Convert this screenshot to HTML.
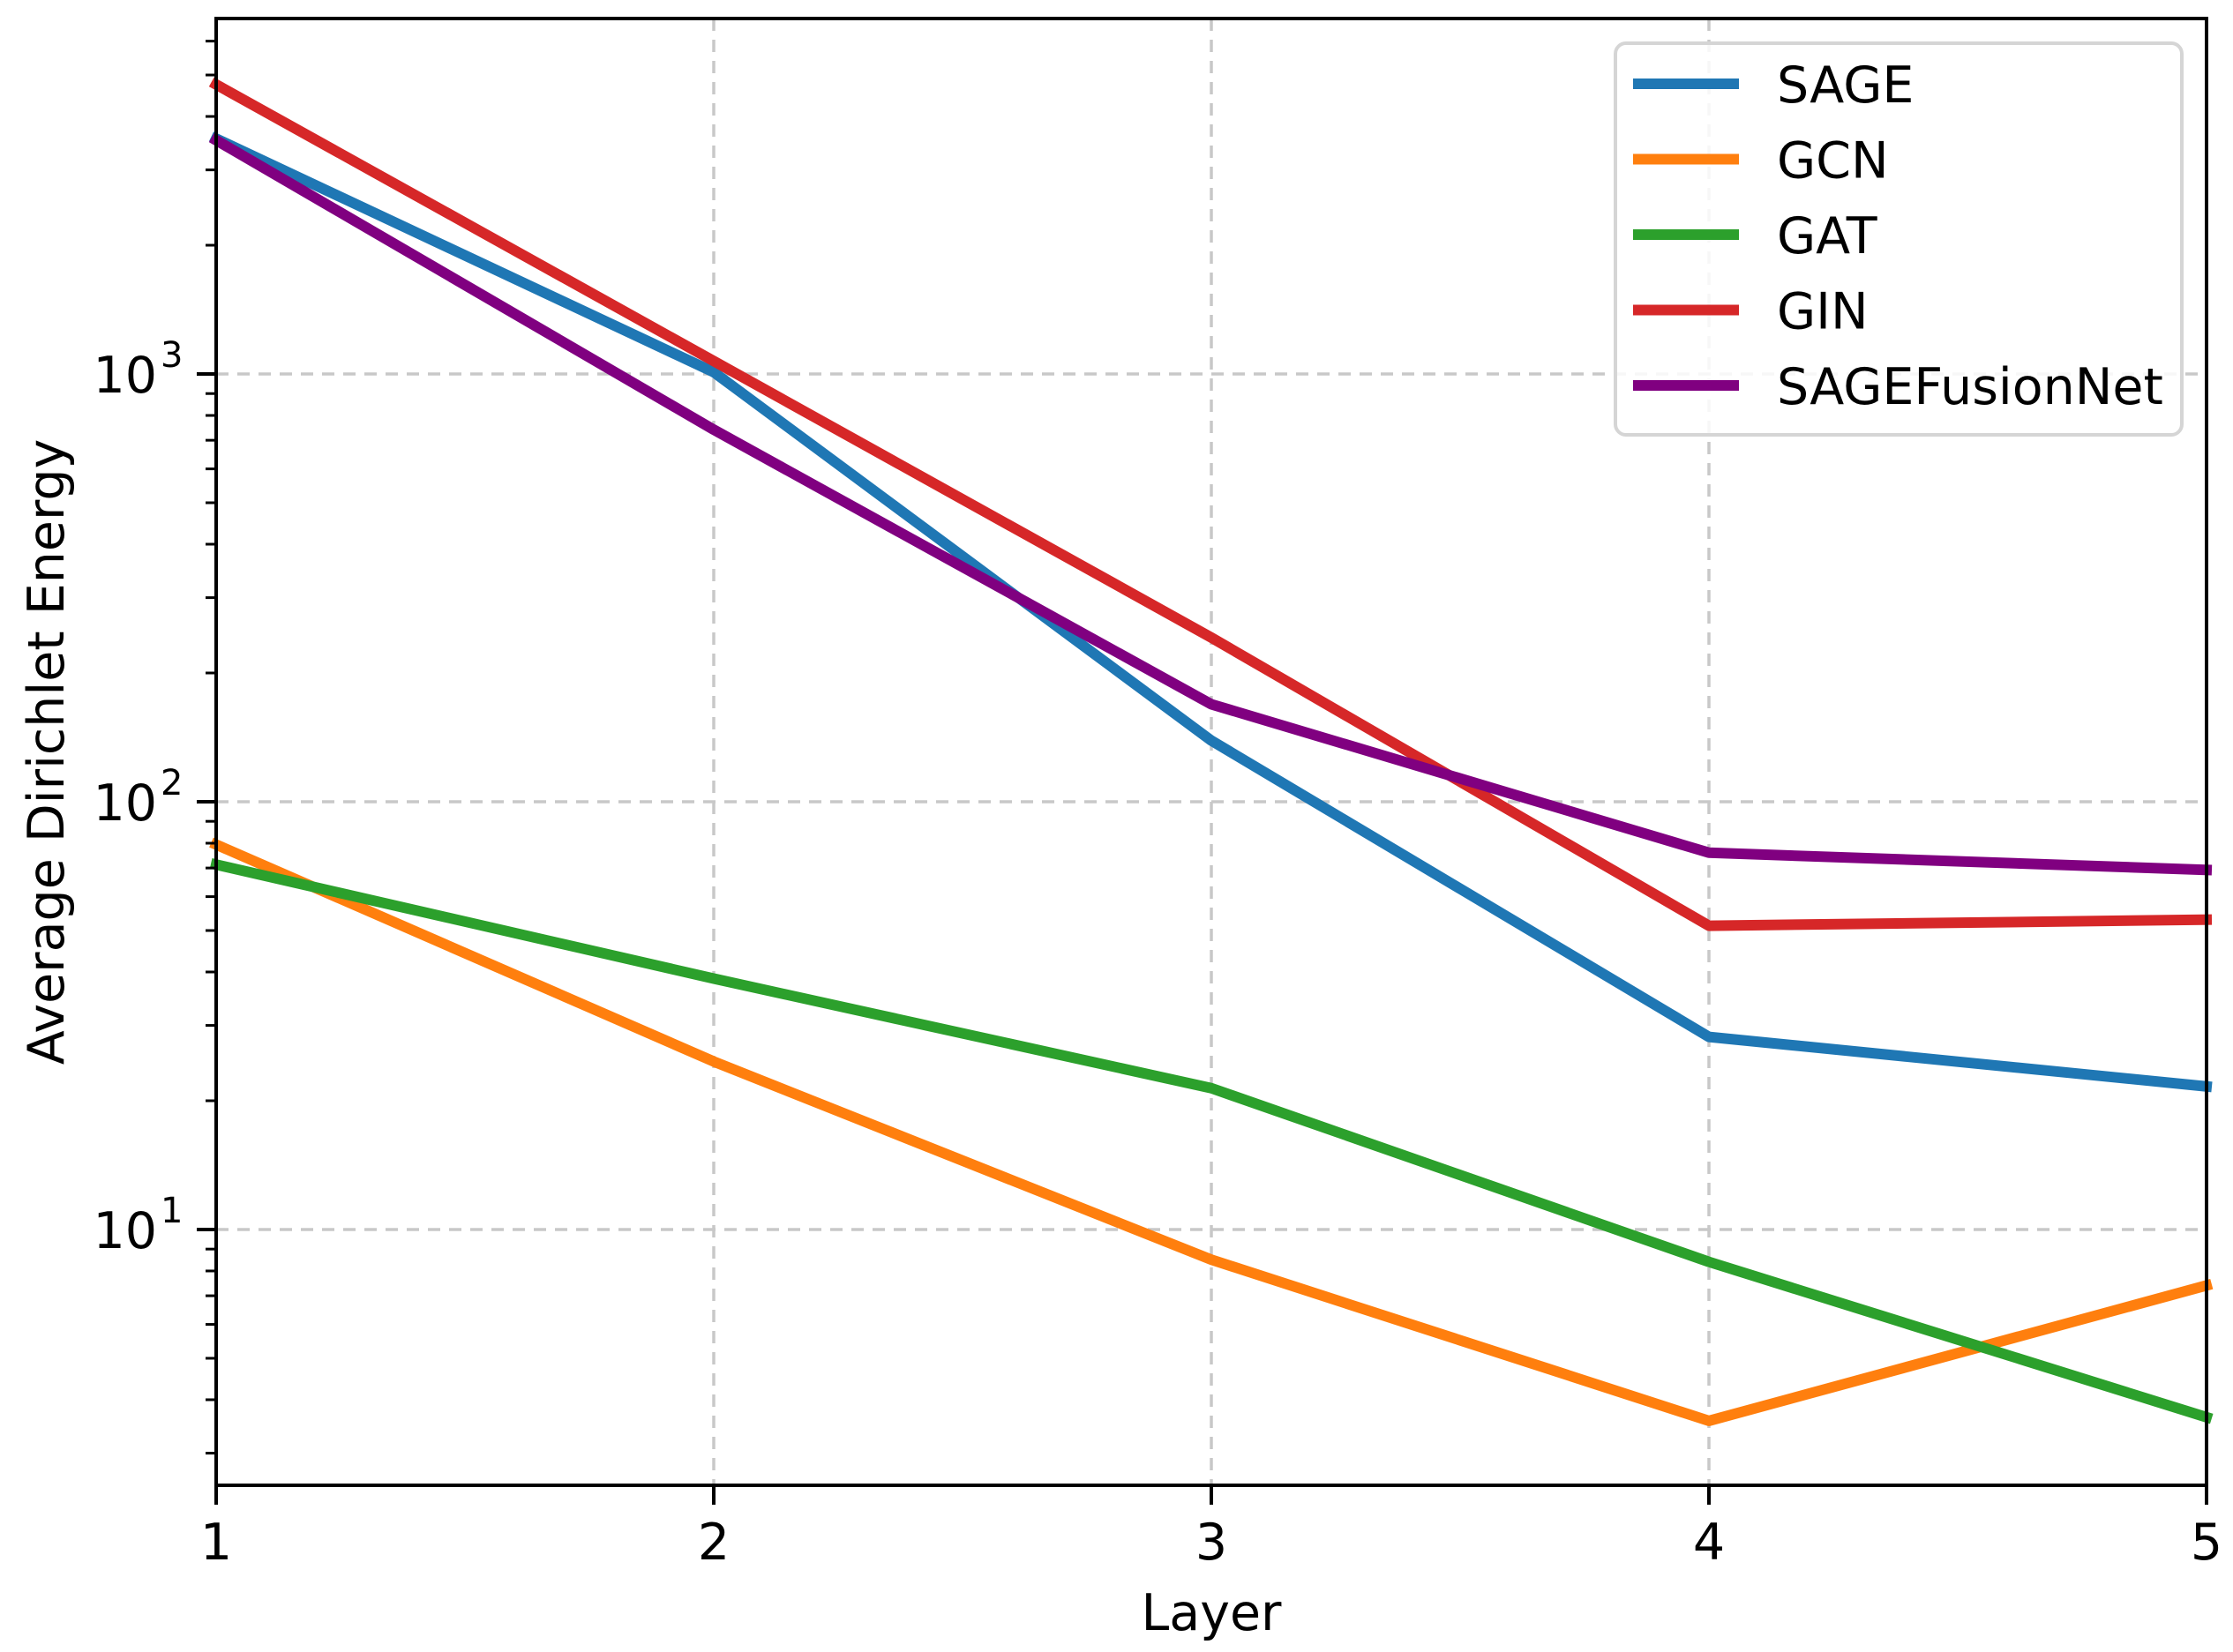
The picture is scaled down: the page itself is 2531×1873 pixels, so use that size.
<!DOCTYPE html>
<html><head><meta charset="utf-8"><style>
html,body{margin:0;padding:0;background:#fff;}
svg{display:block;}
text{font-family:"DejaVu Sans","Liberation Sans",sans-serif;fill:#000;}
</style></head><body>
<svg id="chart" width="2531" height="1873" viewBox="0 0 2531 1873" xmlns="http://www.w3.org/2000/svg">
<g id="grid"></g>
<g id="series"></g>
<g id="axes"></g>
<g id="legend"></g>
</svg>
<script>
const layers = [1, 2, 3, 4, 5];
const seriesNames = ["SAGE", "GCN", "GAT", "GIN", "SAGEFusionNet"];
const sageValues = [3550, 1010, 139, 28.2, 21.6];
const gcnValues = [79.4, 24.7, 8.5, 3.57, 7.4];
const gatValues = [71.3, 38.6, 21.4, 8.4, 3.64];
const ginValues = [4750, 1072, 242, 51.3, 53];
const fusionValues = [3520, 741, 169, 76, 69.3];
const xTickLabels = ["1", "2", "3", "4", "5"];
const yMajorExponents = [1, 2, 3];

const colors = ["#1f77b4", "#ff7f0e", "#2ca02c", "#d62728", "#800080"];
const allValues = [sageValues, gcnValues, gatValues, ginValues, fusionValues];
const L = 245, R = 2501, T = 21, B = 1684;
const logMin = 0.402, logMax = 3.831;
const NS = "http://www.w3.org/2000/svg";
function xs(v){ return L + (v - 1) / 4 * (R - L); }
function ys(v){ return B - (Math.log10(v) - logMin) / (logMax - logMin) * (B - T); }
function mk(tag, attrs, parent){ const e = document.createElementNS(NS, tag); for (const k in attrs) e.setAttribute(k, attrs[k]); parent.appendChild(e); return e; }

const grid = document.getElementById('grid');
const axes = document.getElementById('axes');
const series = document.getElementById('series');
const legend = document.getElementById('legend');

// vertical grid + x ticks
layers.forEach((v, i) => {
  const x = xs(v);
  if (i > 0 && i < layers.length - 1) {
    const g = mk('line', {x1:x, x2:x, y1:T, y2:B, stroke:'#c8c8c8', 'stroke-width':3.5, 'stroke-dasharray':'14 10'}, grid);
    
    
  }
  const t = mk('line', {x1:x, x2:x, y1:B, y2:B+22, stroke:'#000', 'stroke-width':4}, axes);
  
  
  const lb = mk('text', {x:x, y:1768, 'font-size':57, 'text-anchor':'middle'}, axes);
  lb.textContent = xTickLabels[i];
  
  
});

// y major grid + ticks + labels
yMajorExponents.forEach(e => {
  const y = ys(Math.pow(10, e));
  const g = mk('line', {x1:L, x2:R, y1:y, y2:y, stroke:'#c8c8c8', 'stroke-width':3.5, 'stroke-dasharray':'14 10'}, grid);
  
  
  const t = mk('line', {x1:L-22, x2:L, y1:y, y2:y, stroke:'#000', 'stroke-width':4}, axes);
  
  
  const lb = mk('text', {x:178, y:y+21, 'font-size':57, 'text-anchor':'end'}, axes);
  lb.textContent = '10';
  
  
  const sp = mk('text', {x:182, y:y-8, 'font-size':40, 'text-anchor':'start'}, axes);
  sp.textContent = String(e);
  
  
});
// minor ticks
for (let e = 0; e <= 3; e++) {
  for (let m = 2; m <= 9; m++) {
    const v = m * Math.pow(10, e);
    const lv = Math.log10(v);
    if (lv < logMin || lv > logMax) continue;
    const y = ys(v);
    const t = mk('line', {x1:L-12, x2:L, y1:y, y2:y, stroke:'#000', 'stroke-width':3}, axes);
    
    
  }
}

// series
allValues.forEach((vals, si) => {
  const pts = vals.map((v, i) => xs(layers[i]) + ',' + ys(v)).join(' ');
  const p = mk('polyline', {points:pts, fill:'none', stroke:colors[si], 'stroke-width':12, 'stroke-linejoin':'round', 'stroke-linecap':'square'}, series);
  
  
});

// frame
const fr = mk('rect', {x:L, y:T, width:R-L, height:B-T, fill:'none', stroke:'#000', 'stroke-width':4}, axes);



// axis titles
const xt = mk('text', {x:(L+R)/2, y:1848, 'font-size':57, 'text-anchor':'middle'}, axes);
xt.textContent = 'Layer';


const yt = mk('text', {x:0, y:0, 'font-size':57, 'text-anchor':'middle', transform:'translate(72,' + (T+B)/2 + ') rotate(-90)'}, axes);
yt.textContent = 'Average Dirichlet Energy';



// legend
const lbx = mk('rect', {x:1831, y:49, width:642, height:444, rx:12, fill:'#fff', 'fill-opacity':0.85, stroke:'#d5d5d5', 'stroke-width':4}, legend);


seriesNames.forEach((n, i) => {
  const y = 95 + i * 85.5;
  const ln = mk('line', {x1:1851, x2:1971, y1:y, y2:y, stroke:colors[i], 'stroke-width':12}, legend);
  
  
  const tx = mk('text', {x:2014, y:y+21, 'font-size':57}, legend);
  tx.textContent = n;
  
  
});
</script>
</body></html>
